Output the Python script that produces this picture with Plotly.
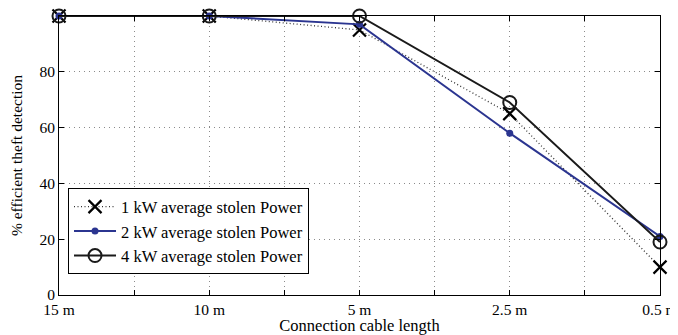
import plotly.graph_objects as go

categories = ["15 m", "10 m", "5 m", "2.5 m", "0.5 m"]
s1_name = "1 kW average stolen Power"
s1 = [100, 100, 95, 65, 10]
s2_name = "2 kW average stolen Power"
s2 = [100, 100, 97, 58, 21]
s4_name = "4 kW average stolen Power"
s4 = [100, 100, 100, 69, 19]
y_ticks = [0, 20, 40, 60, 80, 100]

xs = list(range(len(categories)))
tickvals = [i * 0.5 for i in range(2 * len(categories) - 1)]
ticktext = [categories[int(v)] if v == int(v) else "" for v in tickvals]

fig = go.Figure()
fig.add_trace(go.Scatter(x=xs, y=s1, name=s1_name, mode="lines+markers",
                         line=dict(color="#333333", width=1.3, dash="1px,2.5px"),
                         marker=dict(symbol="x-thin", size=13, line=dict(color="black", width=2.2)),
                         cliponaxis=False))
fig.add_trace(go.Scatter(x=xs, y=s2, name=s2_name, mode="lines+markers",
                         line=dict(color="#2B3590", width=2),
                         marker=dict(symbol="circle", size=7, color="#2B3590"),
                         cliponaxis=False))
fig.add_trace(go.Scatter(x=xs, y=s4, name=s4_name, mode="lines+markers",
                         line=dict(color="#1a1a1a", width=2),
                         marker=dict(symbol="circle-open", size=13, line=dict(color="#1a1a1a", width=2)),
                         cliponaxis=False))

FAM = "Times New Roman, Liberation Serif, serif"
tfont = dict(family=FAM, size=15.5, color="black")
xtitle_font = dict(family=FAM, size=16.5, color="black")
ytitle_font = dict(family=FAM, size=15.5, color="black")
grid_dash = "1px,4px"
fig.update_layout(
    width=670, height=327,
    margin=dict(l=51, r=18, t=8, b=40, autoexpand=False),
    paper_bgcolor="white", plot_bgcolor="white",
    font=tfont,
    showlegend=True,
    legend=dict(x=0.015, y=0.382, xanchor="left", yanchor="top",
                bgcolor="white", bordercolor="black", borderwidth=1,
                font=dict(family=FAM, size=16.5, color="black"),
                itemwidth=42, tracegroupgap=0,
                entrywidth=270, entrywidthmode="pixels"),
    xaxis=dict(range=[0, 4], tickmode="array", tickvals=tickvals, ticktext=ticktext,
               automargin=False,
               showgrid=True, gridcolor="#8a8a8a", griddash=grid_dash, gridwidth=1,
               showline=True, linecolor="black", linewidth=1, mirror="allticks",
               ticks="inside", ticklen=5, tickcolor="black", zeroline=False,
               title=dict(text="Connection cable length", standoff=0, font=xtitle_font),
               tickfont=tfont),
    yaxis=dict(range=[0, 100], tickmode="array", tickvals=y_ticks,
               automargin=False,
               showgrid=True, gridcolor="#8a8a8a", griddash=grid_dash, gridwidth=1,
               showline=True, linecolor="black", linewidth=1, mirror="allticks",
               ticks="inside", ticklen=5, tickcolor="black", zeroline=False,
               title=dict(text="% efficient theft detection", standoff=14, font=ytitle_font),
               tickfont=tfont),
)

fig.write_html("out.html")
